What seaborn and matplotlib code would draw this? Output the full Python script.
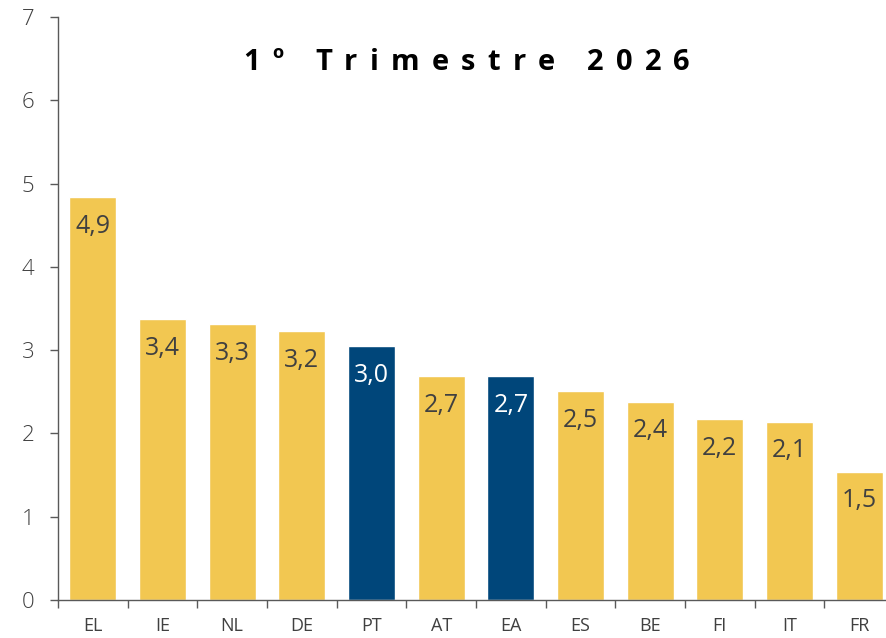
import matplotlib
matplotlib.use("Agg")
import matplotlib.pyplot as plt
import seaborn as sns
import pandas as pd
from matplotlib.textpath import TextPath
from matplotlib.font_manager import FontProperties

countries = ["EL", "IE", "NL", "DE", "PT", "AT", "EA", "ES", "BE", "FI", "IT", "FR"]
values = [4.84, 3.37, 3.31, 3.23, 3.05, 2.69, 2.69, 2.51, 2.38, 2.17, 2.14, 1.54]
labels = ["4,9", "3,4", "3,3", "3,2", "3,0", "2,7", "2,7", "2,5", "2,4", "2,2", "2,1", "1,5"]
highlight = ["PT", "EA"]
title = "1º Trimestre 2026"

YELLOW = "#F2C751"
NAVY = "#00467A"

sns.set_theme(style="white")
plt.rcParams['font.family'] = ['Open Sans', 'DejaVu Sans']

df = pd.DataFrame({"country": countries, "value": values})
palette = {c: (NAVY if c in highlight else YELLOW) for c in countries}

W, H = 887, 638
fig = plt.figure(figsize=(W / 100, H / 100), dpi=100)
ax = fig.add_axes([58/W, 38/H, 836/W, 583/H])
sns.barplot(data=df, x="country", y="value", hue="country", palette=palette,
            width=0.67, saturation=1, legend=False, ax=ax)

ax.set_xlim(-0.5, len(countries) - 0.5)
ax.set_ylim(0, 7)
ax.set_yticks(range(0, 8))
ax.set_xlabel("")
ax.set_ylabel("")

for sp in ["top", "right"]:
    ax.spines[sp].set_visible(False)
for sp in ["left", "bottom"]:
    ax.spines[sp].set_color("#595959")
    ax.spines[sp].set_linewidth(1.0)

ax.set_xticks([i for i in range(len(countries))])
ax.set_xticklabels(countries)
ax.tick_params(axis="x", which="major", bottom=True, length=0, labelsize=13,
               labelcolor="#404040", pad=12)
ax.set_xticks([i - 0.5 for i in range(len(countries) + 1)], minor=True)
ax.tick_params(axis="x", which="minor", bottom=True, length=6, color="#595959",
               width=1.0, direction="out")
ax.tick_params(axis="y", left=True, length=6, color="#595959", width=1.0, direction="out",
               labelsize=16, labelcolor="#404040", pad=11)
for t in ax.get_yticklabels():
    t.set_fontweight("light")

for i, (v, lab, c) in enumerate(zip(values, labels, countries)):
    col = "white" if c in highlight else "#404040"
    ax.text(i, v - 0.35, lab, ha="center", va="center", fontsize=18, color=col)

# title with letter spacing (tracking)
fs = 21
fp = FontProperties(family="Open Sans", weight="bold", size=fs)
scale = 100 / 72
widths = []
for ch in title:
    if ch == " ":
        widths.append(TextPath((0, 0), "a a", prop=fp).get_extents().width * scale
                      - TextPath((0, 0), "aa", prop=fp).get_extents().width * scale)
    else:
        widths.append(TextPath((0, 0), "|" + ch + "|", prop=fp).get_extents().width * scale
                      - TextPath((0, 0), "||", prop=fp).get_extents().width * scale)
left, right = 243, 690
n = len(title)
base = sum(widths)
track = (right - left - base) / (n - 1)
x = left
for ch, w in zip(title, widths):
    if ch != " ":
        fig.text(x / W, 1 - 62 / H, ch, ha="left", va="center", fontsize=fs,
                 fontweight="bold", color="black")
    x += w + track

fig.savefig("out.png", dpi=100)
